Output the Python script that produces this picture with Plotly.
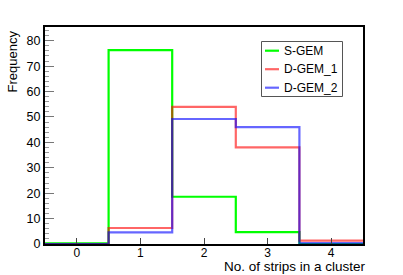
import plotly.graph_objects as go

bin_centers = [0, 1, 2, 3, 4]
bin_edges = [-0.5, 0.5, 1.5, 2.5, 3.5, 4.5]
s_gem = [0.3, 76.3, 18.6, 4.7, 0.0]
d_gem_1 = [0.0, 6.3, 54.0, 38.0, 1.3]
d_gem_2 = [0.0, 4.6, 49.2, 46.0, 0.4]
series_names = ["S-GEM", "D-GEM_1", "D-GEM_2"]
series_colors = ["rgb(0,255,0)", "rgba(255,0,0,0.6)", "rgba(0,0,255,0.6)"]
x_ticks = [0, 1, 2, 3, 4]
y_ticks = [0, 10, 20, 30, 40, 50, 60, 70, 80]

FONT = "Liberation Sans, Arial, sans-serif"
W, H = 403, 275
L, R, T, B = 45, 40, 27, 31
pw, ph = W - L - R, H - T - B
def px(x): return (x - L) / pw
def py(y): return 1 - (y - T) / ph

fig = go.Figure()
for name, vals, col in zip(series_names, [s_gem, d_gem_1, d_gem_2], series_colors):
    fig.add_trace(go.Scatter(
        x=bin_edges, y=list(vals) + [vals[-1]], mode="lines",
        line=dict(shape="hv", color=col, width=2.2), name=name,
        showlegend=False, hoverinfo="skip"))

# manual legend
lx0, lx1, ly0, ly1 = 261.5, 342.5, 41.5, 96.5
fig.add_shape(type="rect", xref="paper", yref="paper", x0=px(lx0), x1=px(lx1),
              y0=py(ly1), y1=py(ly0), line=dict(color="#555", width=1),
              fillcolor="white", layer="above")
for i, (name, col) in enumerate(zip(series_names, series_colors)):
    yy = 50.7 + i * 18.5
    fig.add_shape(type="line", xref="paper", yref="paper", x0=px(265), x1=px(279),
                  y0=py(yy), y1=py(yy), line=dict(color=col, width=2.2), layer="above")
    fig.add_annotation(xref="paper", yref="paper", x=px(281.5), y=py(yy), text=name,
                       showarrow=False, xanchor="left", yanchor="middle",
                       font=dict(family=FONT, size=12, color="black"))

fig.add_annotation(xref="paper", yref="paper", x=px(367), y=py(275), text="No. of strips in a cluster",
                   showarrow=False, xanchor="right", yanchor="bottom", borderpad=0,
                   font=dict(family=FONT, size=13.5, color="black"))
fig.add_annotation(xref="paper", yref="paper", x=px(3), y=py(29), text="Frequency",
                   showarrow=False, xanchor="left", yanchor="top", textangle=-90,
                   font=dict(family=FONT, size=13, color="black"))

fig.update_layout(
    width=W, height=H, margin=dict(l=L, r=R, t=T, b=B),
    paper_bgcolor="white", plot_bgcolor="white", showlegend=False,
    font=dict(family=FONT, size=12, color="black"),
    xaxis=dict(range=[-0.5, 4.5], tickvals=x_ticks, ticktext=[str(v) for v in x_ticks],
               ticks="inside", ticklen=6, tickcolor="#444", showgrid=False, zeroline=False,
               showline=True, linecolor="black", linewidth=2, mirror=True,
               tickfont=dict(size=12), ticklabelstandoff=-3),
    yaxis=dict(range=[0, 85.4], tickvals=y_ticks, ticktext=[str(v) for v in y_ticks],
               ticks="inside", ticklen=9, tickcolor="#777", showgrid=False, zeroline=False,
               showline=True, linecolor="black", linewidth=2, mirror=True,
               tickfont=dict(size=12.5),
               minor=dict(dtick=2, ticks="inside", ticklen=4, tickcolor="#999")),
)
fig.write_html("out.html", config={"displayModeBar": False},
               post_script="document.body.style.margin='0px';document.body.style.overflow='hidden';")
